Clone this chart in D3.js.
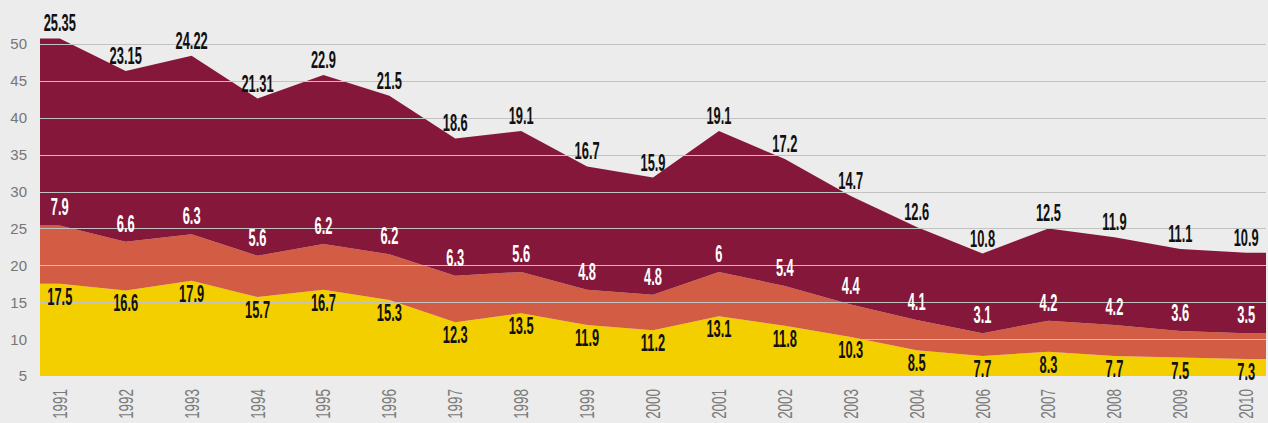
<!DOCTYPE html>
<html>
<head>
<meta charset="utf-8">
<script src="https://cdn.jsdelivr.net/npm/d3@7"></script>
<style>
  body { margin: 0; background: #ebeceb; }
  svg { display: block; }
</style>
</head>
<body>
<svg class="chart"></svg>
<script>
// chart data
var years = ["1991", "1992", "1993", "1994", "1995", "1996", "1997", "1998", "1999", "2000",
             "2001", "2002", "2003", "2004", "2006", "2007", "2008", "2009", "2010"];
var yellowVals = [17.5, 16.6, 17.9, 15.7, 16.7, 15.3, 12.3, 13.5, 11.9, 11.2,
                  13.1, 11.8, 10.3, 8.5, 7.7, 8.3, 7.7, 7.5, 7.3];
var orangeVals = [7.9, 6.6, 6.3, 5.6, 6.2, 6.2, 6.3, 5.6, 4.8, 4.8,
                  6, 5.4, 4.4, 4.1, 3.1, 4.2, 4.2, 3.6, 3.5];
var maroonVals = [25.35, 23.15, 24.22, 21.31, 22.9, 21.5, 18.6, 19.1, 16.7, 15.9,
                  19.1, 17.2, 14.7, 12.6, 10.8, 12.5, 11.9, 11.1, 10.9];
var yTicks = [5, 10, 15, 20, 25, 30, 35, 40, 45, 50];

var width = 1268;
var height = 423;
var margin = {top: 44, right: 2, bottom: 47, left: 40};

var keys = ["yellow", "orange", "maroon"];
var colors = {yellow: "#f4cf00", orange: "#d35c45", maroon: "#85173a"};

// table for d3.stack
var rows = years.map(function(y, i) {
  return {year: y, yellow: yellowVals[i], orange: orangeVals[i], maroon: maroonVals[i]};
});

var svg = d3.select(".chart")
    .attr("width", width)
    .attr("height", height);

svg.append("rect")
    .attr("width", width)
    .attr("height", height)
    .attr("fill", "#ebeceb");

var x = d3.scalePoint()
    .domain(years)
    .range([margin.left, width - margin.right])
    .padding(0.3);

var y = d3.scaleLinear()
    .domain([5, 50])
    .range([height - margin.bottom, margin.top]);

var stacked = d3.stack().keys(keys)(rows);

// areas run flat out to the edges of the plot
var x0 = x.range()[0], x1 = x.range()[1];
function edgePoints(layer) {
  var pts = layer.map(function(d) { return {x: x(d.data.year), lo: d[0], hi: d[1]}; });
  pts.unshift({x: x0, lo: layer[0][0], hi: layer[0][1]});
  var last = layer[layer.length - 1];
  pts.push({x: x1, lo: last[0], hi: last[1]});
  return pts;
}

var area = d3.area()
    .x(function(d) { return d.x; })
    .y0(function(d) { return y(Math.max(5, d.lo)); })
    .y1(function(d) { return y(d.hi); });

svg.selectAll(".layer")
  .data(stacked)
  .enter().append("path")
    .attr("class", "layer")
    .attr("fill", function(d) { return colors[d.key]; })
    .attr("d", function(d) { return area(edgePoints(d)); });

// gridlines sit over the areas
svg.append("g")
  .selectAll("line")
  .data(yTicks.filter(function(t) { return t > 5; }))
  .enter().append("line")
    .attr("x1", x0)
    .attr("x2", x1)
    .attr("y1", function(d) { return Math.round(y(d)) + 0.5; })
    .attr("y2", function(d) { return Math.round(y(d)) + 0.5; })
    .attr("stroke", "#c2c2c2")
    .attr("stroke-width", 1);

// y axis labels
svg.append("g")
  .selectAll("text")
  .data(yTicks)
  .enter().append("text")
    .attr("x", 27)
    .attr("y", function(d) { return y(d); })
    .attr("dy", "0.36em")
    .attr("text-anchor", "end")
    .style("font-family", "'Liberation Sans', Arial, sans-serif")
    .style("font-size", "15px")
    .style("fill", "#767676")
    .text(function(d) { return d; });

// year labels, rotated
svg.append("g")
  .selectAll("text")
  .data(years)
  .enter().append("text")
    .attr("transform", function(d) { return "translate(" + (x(d) + 7) + ",389) rotate(-90) scale(0.64,1)"; })
    .attr("text-anchor", "end")
    .style("font-family", "'Liberation Sans', Arial, sans-serif")
    .style("font-size", "21px")
    .style("fill", "#7a7a7a")
    .text(function(d) { return d; });

// value labels
function valueLabels(layer, fill, offset, field) {
  svg.append("g")
    .selectAll("text")
    .data(layer)
    .enter().append("text")
      .attr("transform", function(d) {
        return "translate(" + x(d.data.year) + "," + (y(d[1]) + offset) + ") scale(0.56,1)";
      })
      .attr("text-anchor", "middle")
      .style("font-family", "'Liberation Sans', Arial, sans-serif")
      .style("font-size", "23px")
      .style("font-weight", "bold")
      .style("fill", fill)
      .text(function(d) { return d.data[field]; });
}

valueLabels(stacked[2], "#111", -7, "maroon");
valueLabels(stacked[1], "#ffffff", -10, "orange");
valueLabels(stacked[0], "#111", 21, "yellow");
</script>
</body>
</html>
